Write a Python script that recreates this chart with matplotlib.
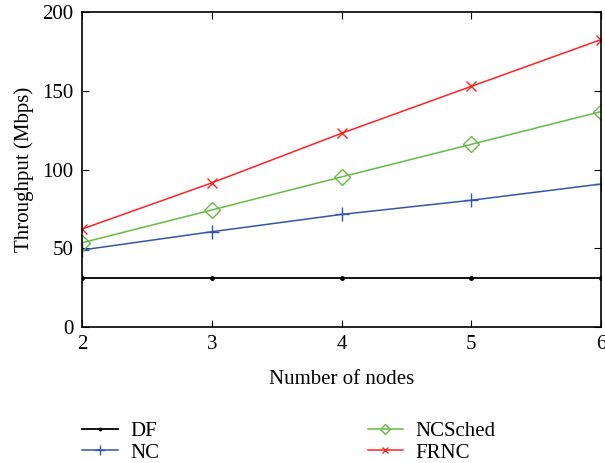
import matplotlib
matplotlib.use("Agg")
import matplotlib.pyplot as plt

# ====== Datos ======
nodes = [2, 3, 4, 5, 6]
df_thr = [31, 31, 31, 31, 31]
nc_thr = [48.9, 60.5, 71.5, 80.5, 90.8]
ncsched_thr = [53.5, 74.3, 95.3, 116.0, 136.8]
frnc_thr = [62.2, 91.5, 123.0, 152.8, 182.5]

plt.rcParams["font.family"] = ["Liberation Serif", "DejaVu Serif"]

fig = plt.figure(figsize=(6.05, 4.63), dpi=100)
ax = fig.add_axes([0.1355, 0.2937, 0.858, 0.6803])

ax.plot(nodes, df_thr, color="black", marker=".", markersize=5, lw=1.3, label="DF")
ax.plot(nodes, nc_thr, color="#3355aa", marker="+", markersize=10, mew=1.0, lw=1.1, label="NC")
ax.plot(nodes, ncsched_thr, color="#66bb44", marker="D", markersize=8, mfc="none",
        mew=1.0, lw=1.1, label="NCSched")
ax.plot(nodes, frnc_thr, color="#ff2222", marker="x", markersize=7, mew=1.0, lw=1.1, label="FRNC")

ax.set_xlim(2, 6)
ax.set_ylim(0, 200)
ax.set_xticks(nodes)
ax.set_yticks([0, 50, 100, 150, 200])
ax.tick_params(direction="in", top=True, right=True, length=5, labelsize=15, pad=6)
for s in ax.spines.values():
    s.set_linewidth(1.2)

ax.set_xlabel("Number of nodes", fontsize=15, labelpad=11)
ax.set_ylabel("Throughput (Mbps)", fontsize=15, labelpad=6)

fig.legend(loc="lower left", bbox_to_anchor=(0.105, -0.04), ncol=2, frameon=False,
           fontsize=15, handlelength=1.7, columnspacing=10.0, labelspacing=0.1,
           handletextpad=0.6, markerscale=0.7)

fig.savefig("out.png", dpi=100)
